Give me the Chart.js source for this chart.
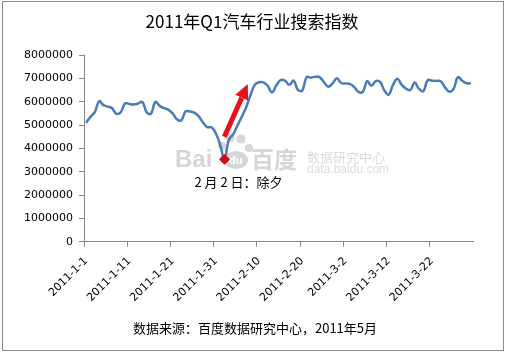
<!DOCTYPE html>
<html>
<head>
<meta charset="utf-8">
<script src="https://cdn.jsdelivr.net/npm/chart.js@4"></script>
<style>
html, body { margin: 0; padding: 0; background: #fff; }
#wrap { width: 506px; height: 354px; position: relative; }
</style>
</head>
<body>
<div id="wrap"><canvas id="chart"></canvas></div>
<script>
// daily search index, 2011-1-1 .. 2011-3-31
const searchIndex = [
    5100000, 5350000, 5550000, 6020000, 5850000, 5790000, 5720000, 5480000, 5550000, 5930000,
    5900000, 5880000, 5920000, 5990000, 5550000, 5480000, 5990000, 5820000, 5720000, 5660000,
    5500000, 5250000, 5200000, 5580000, 5580000, 5530000, 5380000, 5120000, 4910000, 4900000,
    4650000, 4150000, 3530000, 4360000, 4600000, 4980000, 5350000, 5750000, 6280000, 6720000,
    6830000, 6830000, 6680000, 6400000, 6700000, 6920000, 6900000, 6720000, 6900000, 6500000,
    6480000, 7050000, 7030000, 7070000, 7050000, 6840000, 6640000, 6780000, 7000000, 6800000,
    6780000, 6760000, 6630000, 6420000, 6420000, 6880000, 6680000, 6880000, 6850000, 6480000,
    6300000, 6720000, 6980000, 6720000, 6560000, 6500000, 6820000, 6550000, 6450000, 6920000,
    6900000, 6890000, 6880000, 6620000, 6430000, 6550000, 7050000, 6900000, 6790000, 6790000
];
const tickLabels = ['2011-1-1', '2011-1-11', '2011-1-21', '2011-1-31', '2011-2-10',
    '2011-2-20', '2011-3-2', '2011-3-12', '2011-3-22'];
const yMax = 8000000;
const yStep = 1000000;

// Spring Festival eve marker + arrow (category index, value)
const eveIndex = 32;
const eveLabel = '2 月 2 日：除夕';
const arrowFrom = [31.97, 4500000];
const arrowTo = [37.4, 6760000];

const titleText = '2011年Q1汽车行业搜索指数';
const sourceText = '数据来源：百度数据研究中心，2011年5月';

function buildDays() {
    const days = [];
    for (let i = 0; i < searchIndex.length; i++) {
        const d = new Date(Date.UTC(2011, 0, 1 + i));
        days.push(d.getUTCFullYear() + '-' + (d.getUTCMonth() + 1) + '-' + d.getUTCDate());
    }
    return days;
}
const days = buildDays();

const axisGray = '#868686';
const lineBlue = '#4a7db6';

const decorPlugin = {
    id: 'decor',
    beforeDatasetsDraw(chart) {
        const ctx = chart.ctx;
        ctx.save();
        // baidu watermark
        ctx.fillStyle = '#d6d6d6';
        ctx.textBaseline = 'alphabetic';
        ctx.textAlign = 'left';
        ctx.font = 'bold 24px "Liberation Sans", Arial, sans-serif';
        ctx.fillText('Bai', 175, 167);
        [[222, 146, 4], [230, 138, 4.5], [241, 139, 4.5], [249, 148, 4]].forEach(p => {
            ctx.beginPath();
            ctx.arc(p[0], p[1], p[2], 0, Math.PI * 2);
            ctx.fill();
        });
        ctx.beginPath();
        ctx.ellipse(236, 160, 12, 9, 0, 0, Math.PI * 2);
        ctx.fill();
        ctx.fillStyle = '#ffffff';
        ctx.font = 'bold 11px "Liberation Sans", Arial, sans-serif';
        ctx.fillText('du', 229, 164);
        ctx.fillStyle = '#d6d6d6';
        ctx.font = 'bold 23px "Noto Sans CJK SC", sans-serif';
        ctx.fillText('百度', 251, 168);
        ctx.fillStyle = '#dcdcdc';
        ctx.font = '13px "Noto Sans CJK SC", sans-serif';
        ctx.fillText('数据研究中心', 307, 162);
        ctx.font = '12px "Liberation Sans", Arial, sans-serif';
        ctx.fillText('data.baidu.com', 307, 173);
        ctx.restore();
    },
    afterDraw(chart) {
        const ctx = chart.ctx;
        const xs = chart.scales.x;
        const ys = chart.scales.y;
        ctx.save();
        // outer border
        ctx.strokeStyle = '#8c8c8c';
        ctx.lineWidth = 1;
        ctx.strokeRect(2.5, 1.5, 501, 349);

        // title and source
        ctx.fillStyle = '#000';
        ctx.textAlign = 'center';
        ctx.textBaseline = 'middle';
        ctx.font = '17px "Noto Sans CJK SC", sans-serif';
        ctx.fillText(titleText, 252, 22);
        ctx.font = '13px "Noto Sans CJK SC", sans-serif';
        ctx.fillText(sourceText, 255, 328);

        // red arrow
        const x1 = xs.getPixelForValue(arrowFrom[0]);
        const y1 = ys.getPixelForValue(arrowFrom[1]);
        const x2 = xs.getPixelForValue(arrowTo[0]);
        const y2 = ys.getPixelForValue(arrowTo[1]);
        const ang = Math.atan2(y2 - y1, x2 - x1);
        const headLen = 15;
        const headHalf = 7;
        const bx = x2 - headLen * Math.cos(ang);
        const by = y2 - headLen * Math.sin(ang);
        ctx.strokeStyle = '#e8121a';
        ctx.fillStyle = '#e8121a';
        ctx.lineWidth = 5;
        ctx.beginPath();
        ctx.moveTo(x1, y1);
        ctx.lineTo(bx, by);
        ctx.stroke();
        ctx.beginPath();
        ctx.moveTo(x2, y2);
        ctx.lineTo(bx + headHalf * Math.sin(ang), by - headHalf * Math.cos(ang));
        ctx.lineTo(bx - headHalf * Math.sin(ang), by + headHalf * Math.cos(ang));
        ctx.closePath();
        ctx.fill();

        // eve label
        const px = xs.getPixelForValue(eveIndex);
        const py = ys.getPixelForValue(searchIndex[eveIndex]);
        ctx.fillStyle = '#000';
        ctx.font = '13px "Noto Sans CJK SC", sans-serif';
        ctx.textAlign = 'center';
        ctx.fillText(eveLabel, px + 14, py + 23);
        ctx.restore();
    }
};

new Chart(document.getElementById('chart'), {
    type: 'line',
    data: {
        labels: days,
        datasets: [{
            data: searchIndex,
            borderColor: lineBlue,
            borderWidth: 2.5,
            tension: 0.4,
            fill: false,
            pointStyle: 'rectRot',
            pointRadius: ctx => ctx.dataIndex === eveIndex ? 5 : 0,
            pointBackgroundColor: '#c4101a',
            pointBorderColor: '#c4101a',
            pointBorderWidth: 1
        }]
    },
    options: {
        responsive: true,
        maintainAspectRatio: false,
        animation: false,
        events: [],
        layout: {
            padding: { top: 55, right: 33, bottom: 0, left: 0 }
        },
        plugins: {
            legend: { display: false },
            tooltip: { enabled: false }
        },
        scales: {
            x: {
                offset: true,
                grid: {
                    offset: true,
                    drawOnChartArea: false,
                    tickLength: 5,
                    tickColor: ctx => ctx.index % 10 === 0 ? axisGray : 'rgba(0,0,0,0)'
                },
                border: { color: axisGray },
                ticks: {
                    autoSkip: false,
                    minRotation: 45,
                    maxRotation: 45,
                    padding: 8,
                    color: '#000',
                    font: { family: '"DejaVu Sans", sans-serif', size: 11 },
                    callback: (value, index) => index % 10 === 0 ? tickLabels[index / 10] : ''
                },
                afterFit: scale => { scale.height = 354 - 241.7; }
            },
            y: {
                min: 0,
                max: yMax,
                grid: {
                    drawOnChartArea: false,
                    tickLength: 5,
                    tickColor: axisGray
                },
                border: { color: axisGray },
                ticks: {
                    stepSize: yStep,
                    padding: 6,
                    color: '#000',
                    font: { family: '"DejaVu Sans", sans-serif', size: 11 },
                    callback: v => String(v)
                },
                afterFit: scale => { scale.width = 84; }
            }
        }
    },
    plugins: [decorPlugin]
});
</script>
</body>
</html>
